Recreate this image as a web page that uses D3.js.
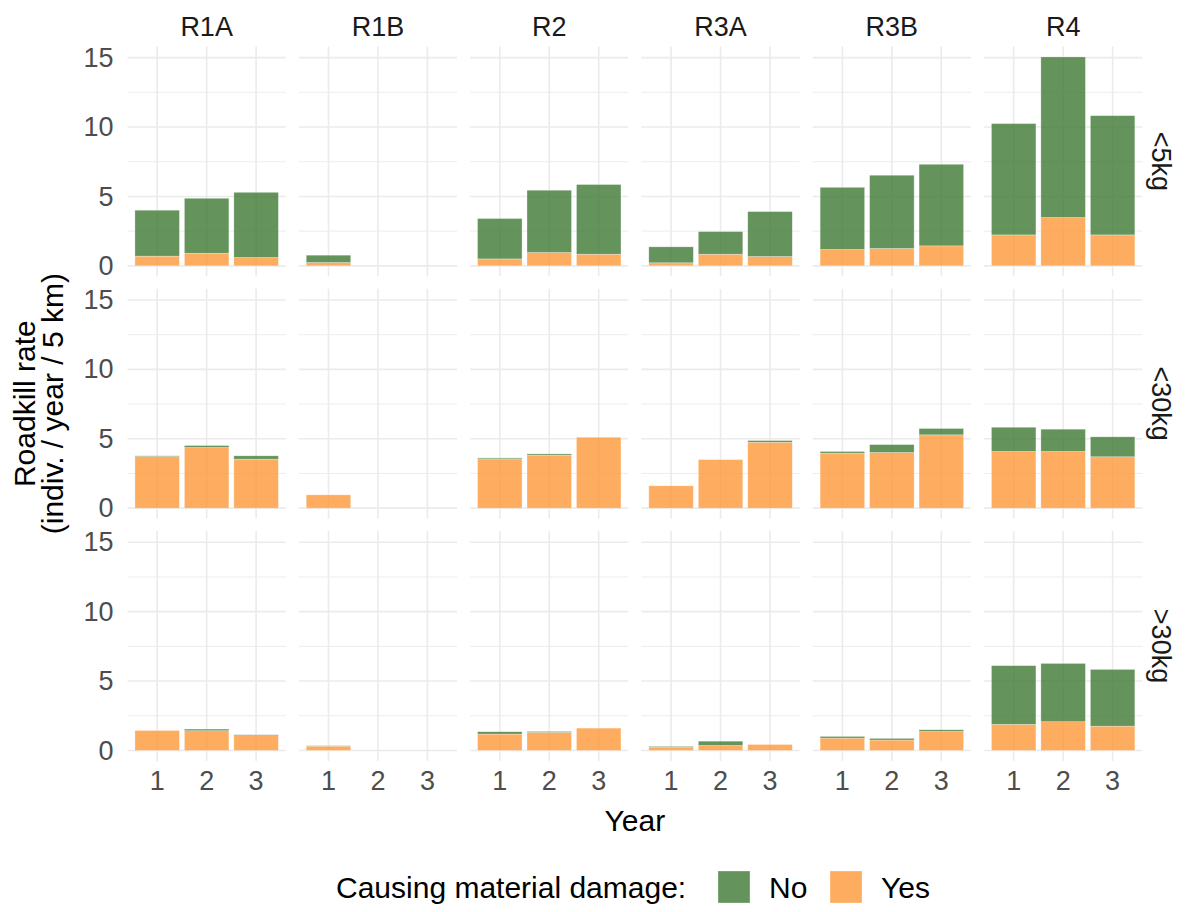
<!DOCTYPE html>
<html>
<head>
<meta charset="utf-8">
<script src="https://cdn.jsdelivr.net/npm/d3@7"></script>
<style>
  html, body { margin: 0; padding: 0; background: #fff; }
  svg { display: block; font-family: "Liberation Sans", Arial, Helvetica, sans-serif; }
</style>
</head>
<body>
<svg id="chart" width="1185" height="912"></svg>
<script>
// Road sections (facet columns), body-size classes (facet rows) and survey years
const regions = ["R1A", "R1B", "R2", "R3A", "R3B", "R4"];
const sizeClasses = ["<5kg", "<30kg", ">30kg"];
const years = [1, 2, 3];
const yTicks = [0, 5, 10, 15];

// Roadkill rate (indiv. / year / 5 km) causing material damage ("Yes"), per class, per region, per year
const yesSmall  = [[0.70, 0.91, 0.60], [0.24, null, null], [0.50, 0.96, 0.84], [0.22, 0.84, 0.67], [1.18, 1.25, 1.44], [2.23, 3.48, 2.23]];
const yesMedium = [[3.72, 4.37, 3.53], [0.96, null, null], [3.55, 3.82, 5.11], [1.61, 3.50, 4.75], [3.96, 4.01, 5.28], [4.08, 4.08, 3.70]];
const yesLarge  = [[1.44, 1.42, 1.06], [0.31, null, null], [1.18, 1.30, 1.61], [0.22, 0.36, 0.43], [0.89, 0.75, 1.37], [1.88, 2.07, 1.75]];

// Roadkill rate not causing material damage ("No")
const noSmall  = [[3.31, 3.96, 4.70], [0.53, null, null], [2.91, 4.49, 5.02], [1.15, 1.63, 3.24], [4.48, 5.28, 5.88], [8.02, 11.57, 8.59]];
const noMedium = [[0.05, 0.14, 0.24], [0.00, null, null], [0.07, 0.09, 0.00], [0.00, 0.00, 0.12], [0.12, 0.57, 0.46], [1.75, 1.61, 1.44]];
const noLarge  = [[0.00, 0.12, 0.07], [0.03, null, null], [0.17, 0.07, 0.00], [0.07, 0.31, 0.00], [0.12, 0.12, 0.12], [4.23, 4.20, 4.09]];

const damageLevels = ["No", "Yes"];

const yesByClass = [yesSmall, yesMedium, yesLarge];
const noByClass = [noSmall, noMedium, noLarge];

// Flat records for drawing
const records = [];
sizeClasses.forEach((sc, r) => {
  regions.forEach((reg, c) => {
    years.forEach((yr, i) => {
      const yes = yesByClass[r][c][i];
      const no = noByClass[r][c][i];
      if (yes === null || no === null) return;
      records.push({ sizeClass: sc, row: r, region: reg, col: c, year: yr, yes, no, total: yes + no });
    });
  });
});

// Layout
const panelX0 = 127.5, panelW = 158.3, hGap = 13.0;
const panelY0 = 46.5, panelH = 229.8, vGap = 12.5;

const fill = { No: "#3d7933", Yes: "#fe9838" };
const fillOpacity = 0.8;

const svg = d3.select("#chart");

const x = d3.scaleBand().domain(years).range([0, panelW]).paddingInner(0.1).paddingOuter(0.15);
const maxTotal = d3.max(records, d => d.total);
const expand = maxTotal * 0.05;
const y = d3.scaleLinear().domain([-expand, maxTotal + expand]).range([panelH, 0]);

const minorTicks = [2.5, 7.5, 12.5];
const gridColor = "#ebebeb";

sizeClasses.forEach((sc, r) => {
  regions.forEach((reg, c) => {
    const px = panelX0 + c * (panelW + hGap);
    const py = panelY0 + r * (panelH + vGap);
    const g = svg.append("g").attr("transform", `translate(${px},${py})`);

    // grid
    g.selectAll("line.minor").data(minorTicks).enter().append("line")
      .attr("x1", 0).attr("x2", panelW)
      .attr("y1", d => y(d)).attr("y2", d => y(d))
      .attr("stroke", gridColor).attr("stroke-width", 0.9);
    g.selectAll("line.majorY").data(yTicks).enter().append("line")
      .attr("x1", 0).attr("x2", panelW)
      .attr("y1", d => y(d)).attr("y2", d => y(d))
      .attr("stroke", gridColor).attr("stroke-width", 1.6);
    g.selectAll("line.majorX").data(years).enter().append("line")
      .attr("x1", d => x(d) + x.bandwidth() / 2).attr("x2", d => x(d) + x.bandwidth() / 2)
      .attr("y1", 0).attr("y2", panelH)
      .attr("stroke", gridColor).attr("stroke-width", 1.6);

    const cell = records.filter(d => d.row === r && d.col === c);

    // stacked bars: Yes at the bottom, No on top
    g.selectAll("rect.yes").data(cell).enter().append("rect")
      .attr("x", d => x(d.year)).attr("width", x.bandwidth())
      .attr("y", d => y(d.yes)).attr("height", d => y(0) - y(d.yes))
      .attr("fill", fill.Yes).attr("fill-opacity", fillOpacity)
      .attr("stroke", "#ffffff").attr("stroke-opacity", 0.5).attr("stroke-width", 0.6);
    g.selectAll("rect.no").data(cell.filter(d => d.no > 0)).enter().append("rect")
      .attr("x", d => x(d.year)).attr("width", x.bandwidth())
      .attr("y", d => y(d.total)).attr("height", d => y(d.yes) - y(d.total))
      .attr("fill", fill.No).attr("fill-opacity", fillOpacity)
      .attr("stroke", "#ffffff").attr("stroke-opacity", 0.5).attr("stroke-width", 0.6);

    // y axis labels on the first column
    if (c === 0) {
      const ax = g.append("g").call(d3.axisLeft(y).tickValues(yTicks).tickSize(0).tickPadding(14));
      ax.select(".domain").remove();
      ax.selectAll("text").attr("font-size", 27).attr("fill", "#4d4d4d")
        .attr("font-family", "Liberation Sans, Arial, sans-serif");
    }
    // x axis labels on the bottom row
    if (r === sizeClasses.length - 1) {
      const ax = g.append("g").attr("transform", `translate(0,${panelH})`)
        .call(d3.axisBottom(x).tickSize(0).tickPadding(10));
      ax.select(".domain").remove();
      ax.selectAll("text").attr("font-size", 27).attr("fill", "#4d4d4d")
        .attr("font-family", "Liberation Sans, Arial, sans-serif");
    }
    // strip labels
    if (r === 0) {
      svg.append("text").attr("x", px + panelW / 2).attr("y", 36)
        .attr("text-anchor", "middle").attr("font-size", 27).attr("fill", "#1a1a1a").text(reg);
    }
    if (c === regions.length - 1) {
      svg.append("text")
        .attr("transform", `translate(${px + panelW + 10},${py + panelH / 2}) rotate(90)`)
        .attr("text-anchor", "middle").attr("font-size", 27).attr("fill", "#1a1a1a").text(sc);
    }
  });
});

// axis titles
const plotLeft = panelX0, plotRight = panelX0 + regions.length * panelW + (regions.length - 1) * hGap;
const plotTop = panelY0, plotBottom = panelY0 + sizeClasses.length * panelH + (sizeClasses.length - 1) * vGap;

svg.append("text").attr("x", (plotLeft + plotRight) / 2).attr("y", 831)
  .attr("text-anchor", "middle").attr("font-size", 30).attr("fill", "#000").text("Year");

const yTitle = svg.append("text")
  .attr("transform", `translate(35,${(plotTop + plotBottom) / 2}) rotate(-90)`)
  .attr("text-anchor", "middle").attr("font-size", 30).attr("fill", "#000");
yTitle.append("tspan").attr("x", 0).attr("dy", 0).text("Roadkill rate");
yTitle.append("tspan").attr("x", 0).attr("dy", 28).text("(indiv. / year / 5 km)");

// legend
const legend = svg.append("g").attr("transform", "translate(0,887)");
legend.append("text").attr("x", 336).attr("y", 11).attr("font-size", 30).attr("fill", "#000")
  .text("Causing material damage:");
const keyX = { No: 718, Yes: 830 };
damageLevels.forEach(lv => {
  legend.append("rect").attr("x", keyX[lv]).attr("y", -16).attr("width", 32).attr("height", 32)
    .attr("fill", fill[lv]).attr("fill-opacity", fillOpacity)
    .attr("stroke", "#ffffff").attr("stroke-opacity", 0.5).attr("stroke-width", 0.6);
  legend.append("text").attr("x", keyX[lv] + 51).attr("y", 11).attr("font-size", 30).attr("fill", "#000").text(lv);
});
</script>
</body>
</html>
